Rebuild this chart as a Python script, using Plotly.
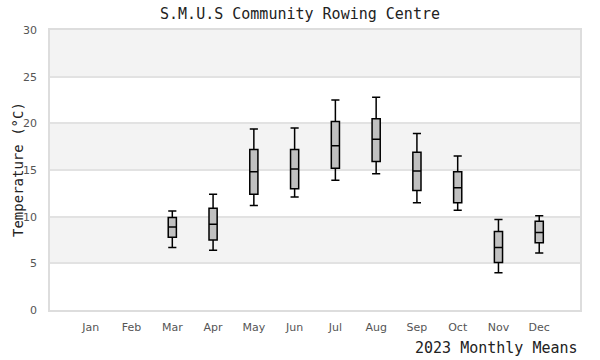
import plotly.graph_objects as go

months = ["Jan", "Feb", "Mar", "Apr", "May", "Jun", "Jul", "Aug", "Sep", "Oct", "Nov", "Dec"]
box_months = ["Mar", "Apr", "May", "Jun", "Jul", "Aug", "Sep", "Oct", "Nov", "Dec"]
lower = [6.7, 6.4, 11.2, 12.1, 13.9, 14.6, 11.5, 10.7, 4.0, 6.1]
q1 = [7.8, 7.5, 12.4, 13.0, 15.2, 15.9, 12.8, 11.5, 5.1, 7.2]
median = [8.9, 9.2, 14.8, 15.1, 17.6, 18.3, 14.9, 13.1, 6.7, 8.3]
q3 = [9.9, 10.9, 17.2, 17.2, 20.2, 20.5, 16.9, 14.8, 8.4, 9.5]
upper = [10.6, 12.4, 19.4, 19.5, 22.5, 22.8, 18.9, 16.5, 9.7, 10.1]
y_ticks = [0, 5, 10, 15, 20, 25, 30]

mono = "DejaVu Sans Mono"
sans = "DejaVu Sans"

fig = go.Figure()
fig.add_trace(go.Box(
    x=box_months, q1=q1, median=median, q3=q3,
    lowerfence=lower, upperfence=upper,
    fillcolor="#c0c0c0", line=dict(color="#000000", width=1.5),
    width=0.2, whiskerwidth=1, boxpoints=False, hoverinfo="skip",
    showlegend=False,
))

shapes = []
for i in range(len(y_ticks) - 1):
    if i % 2 == 1:
        shapes.append(dict(type="rect", xref="paper", yref="y", x0=0, x1=1,
                           y0=y_ticks[i], y1=y_ticks[i + 1],
                           fillcolor="#f3f3f3", line=dict(width=0), layer="below"))

fig.update_layout(
    width=600, height=360,
    margin=dict(l=50, r=20, t=30, b=50),
    paper_bgcolor="white", plot_bgcolor="white",
    shapes=shapes,
    title=dict(text="S.M.U.S Community Rowing Centre", x=0.5, xanchor="center",
               y=1 - 14 / 360, yanchor="middle", yref="container",
               font=dict(family=mono, size=15, color="#222222")),
    xaxis=dict(type="category", categoryorder="array", categoryarray=months,
               range=[-1, 12], showgrid=False, zeroline=False,
               showline=True, linecolor="#dddddd", linewidth=1.5, mirror=True,
               tickfont=dict(family=sans, size=11, color="#555555"),
               ticks="outside", ticklen=6, tickcolor="rgba(0,0,0,0)"),
    yaxis=dict(range=[0, 30], tickvals=y_ticks, showgrid=True, gridcolor="#e2e2e2",
               gridwidth=1.5, zeroline=False,
               showline=True, linecolor="#dddddd", linewidth=1.5, mirror=True,
               tickfont=dict(family=sans, size=11, color="#555555"),
               ticks="outside", ticklen=9, tickcolor="rgba(0,0,0,0)"),
    annotations=[
        dict(text="Temperature (°C)", xref="paper", yref="paper", x=0, y=0.5,
             xshift=-32, textangle=-90, showarrow=False, xanchor="center", yanchor="middle",
             font=dict(family=mono, size=14, color="#222222")),
        dict(text="2023 Monthly Means", xref="paper", yref="paper", x=1, y=0,
             yshift=-38, showarrow=False, xanchor="right", yanchor="middle",
             font=dict(family=mono, size=15, color="#222222")),
    ],
)

fig.write_html("out.html", config={"displayModeBar": False},
               post_script="document.body.style.margin='0';document.body.style.padding='0';")
